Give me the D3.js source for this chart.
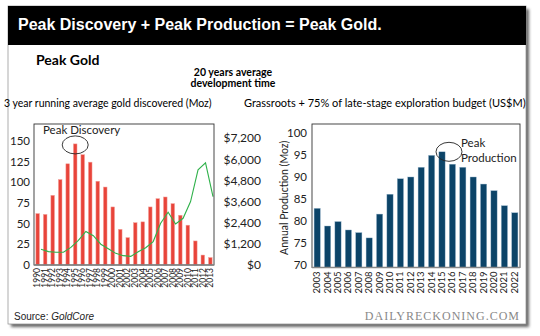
<!DOCTYPE html>
<html>
<head>
<meta charset="utf-8">
<script src="https://cdn.jsdelivr.net/npm/d3@7"></script>
<style>
  body { margin: 0; background: #fff; }
  svg { display: block; font-family: Lato, "Noto Sans", sans-serif; }
</style>
</head>
<body>
<div id="chart"></div>
<script>
// --- data ---
const discYears = ["1990","1991","1992","1993","1994","1995","1996","1997","1998","1999","2000","2001",
                   "2002","2003","2004","2005","2006","2007","2008","2009","2010","2011","2012","2013"];
// 3 year running average gold discovered (Moz)
const discovered = [62, 61, 84, 103, 122, 146, 133, 124, 101, 94, 70, 43, 33, 51, 52, 70, 80, 82, 74, 60, 48, 29, 12, 9];
// grassroots + 75% of late-stage exploration budget (US$M)
const budget = [890, 760, 720, 720, 1000, 1400, 1900, 1660, 1180, 920, 660, 530, 490, 750, 980, 1330, 2370, 2990, 2330, 2650, 3600, 5400, 5800, 3880];
const leftTicks = [0, 25, 50, 75, 100, 125, 150];
const rightTicks = [0, 1200, 2400, 3600, 4800, 6000, 7200];

const prodYears = ["2003","2004","2005","2006","2007","2008","2009","2010","2011","2012",
                   "2013","2014","2015","2016","2017","2018","2019","2020","2021","2022"];
// annual production (Moz)
const production = [82.9, 78.9, 79.9, 78.0, 77.4, 76.2, 81.6, 86.1, 89.6, 90.0, 92.2, 94.9, 95.7, 92.9, 92.2, 90.0, 88.4, 86.9, 83.5, 81.9];
const prodTicks = [70, 75, 80, 85, 90, 95, 100];

const width = 540, height = 336;

const svg = d3.select("#chart").append("svg")
    .attr("width", width)
    .attr("height", height)
    .attr("viewBox", `0 0 ${width} ${height}`);

// --- panel with shadow ---
const defs = svg.append("defs");
const blur = defs.append("filter").attr("id", "shadow").attr("x", "-5%").attr("y", "-5%").attr("width", "115%").attr("height", "115%");
blur.append("feGaussianBlur").attr("stdDeviation", 1.6);

svg.append("rect").attr("x", 11).attr("y", 9).attr("width", 518).attr("height", 318)
    .attr("fill", "#666").attr("filter", "url(#shadow)");
svg.append("rect").attr("x", 8).attr("y", 6).attr("width", 518).attr("height", 318)
    .attr("fill", "#fff").attr("stroke", "#999").attr("stroke-width", 0.8);
svg.append("rect").attr("x", 8).attr("y", 6).attr("width", 518).attr("height", 39).attr("fill", "#000");

svg.append("text")
    .attr("x", 18).attr("y", 30)
    .attr("fill", "#fff")
    .style("font-family", "'Liberation Sans', Arial, sans-serif")
    .style("font-weight", "bold")
    .style("font-size", "16px")
    .text("Peak Discovery + Peak Production = Peak Gold.");

svg.append("text")
    .attr("x", 36).attr("y", 65)
    .style("font-weight", "bold").style("font-size", "14px")
    .text("Peak Gold");

const sub = svg.append("text")
    .attr("text-anchor", "middle")
    .style("font-weight", "bold").style("font-size", "10.5px");
sub.append("tspan").attr("x", 233).attr("y", 76).text("20 years average");
sub.append("tspan").attr("x", 233).attr("y", 86.5).text("development time");

svg.append("text").attr("x", 4).attr("y", 107).style("font-size", "10.5px")
    .text("3 year running average gold discovered (Moz)");
svg.append("text").attr("x", 244).attr("y", 107).style("font-size", "11px")
    .text("Grassroots + 75% of late-stage exploration budget (US$M)");

// --- left chart: discoveries + budget ---
const L = { left: 34, right: 214, top: 124, bottom: 265 };

const xL = d3.scaleBand().domain(discYears).range([L.left, L.right]).paddingInner(0.52).paddingOuter(0.25);
const xLine = d3.scalePoint().domain(discYears).range([41, 213]);
const yL = d3.scaleLinear().domain([0, 170]).range([L.bottom, L.top]);
const yR = d3.scaleLinear().domain([0, 8000]).range([L.bottom, L.top]);

const left = svg.append("g");

left.append("g").selectAll("rect")
    .data(discYears)
    .join("rect")
    .attr("x", d => xL(d))
    .attr("y", (d, i) => yL(discovered[i]))
    .attr("width", xL.bandwidth())
    .attr("height", (d, i) => yL(0) - yL(discovered[i]))
    .attr("fill", "#e8443a")
    .attr("stroke", "#f3a39d")
    .attr("stroke-width", 0.5);

const line = d3.line()
    .x((d, i) => xLine(discYears[i]))
    .y(d => yR(d));

left.append("path")
    .datum(budget)
    .attr("d", line)
    .attr("fill", "none")
    .attr("stroke", "#2fb14a")
    .attr("stroke-width", 1.1);

left.append("rect")
    .attr("x", L.left).attr("y", L.top)
    .attr("width", L.right - L.left).attr("height", L.bottom - L.top)
    .attr("fill", "none").attr("stroke", "#333").attr("stroke-width", 0.9);
left.append("line")
    .attr("x1", L.left).attr("x2", L.right).attr("y1", L.bottom).attr("y2", L.bottom)
    .attr("stroke", "#888").attr("stroke-width", 1.6);

const axL = left.append("g")
    .attr("transform", `translate(${L.left},0)`)
    .call(d3.axisLeft(yL).tickValues(leftTicks).tickSize(0).tickPadding(4));
axL.select(".domain").remove();
axL.selectAll("text").style("font-family", "Lato, sans-serif").style("font-size", "11.5px").attr("fill", "#222");

const axR = left.append("g")
    .attr("transform", `translate(${L.right},0)`)
    .call(d3.axisRight(yR).tickValues(rightTicks).tickSize(0).tickPadding(4)
        .tickFormat(d => "$" + d3.format(",")(d)));
axR.select(".domain").remove();
axR.selectAll("text")
    .attr("text-anchor", "end").attr("x", 47)
    .style("font-family", "Lato, sans-serif").style("font-size", "12px").attr("fill", "#222");

const axB = left.append("g")
    .attr("transform", `translate(0,${L.bottom})`)
    .call(d3.axisBottom(xL).tickSize(0).tickPadding(0));
axB.select(".domain").remove();
axB.selectAll("text")
    .attr("transform", "rotate(-90)")
    .attr("text-anchor", "end")
    .attr("x", -3).attr("y", 0).attr("dy", "0.32em")
    .style("font-family", "Lato, sans-serif").style("font-size", "8.5px").attr("fill", "#222");

// Peak Discovery annotation
const peakI = discovered.indexOf(d3.max(discovered));
left.append("ellipse")
    .attr("cx", xL(discYears[peakI]) + xL.bandwidth() / 2)
    .attr("cy", yL(discovered[peakI]) + 1)
    .attr("rx", 13).attr("ry", 9)
    .attr("fill", "none").attr("stroke", "#222").attr("stroke-width", 0.9);
left.append("text").attr("x", 43).attr("y", 134).style("font-size", "11.5px").attr("fill", "#222")
    .text("Peak Discovery");

// --- right chart: production ---
const R = { left: 312, right: 520, top: 124, bottom: 267.5 };

const xP = d3.scaleBand().domain(prodYears).range([R.left, R.right]).paddingInner(0.4).paddingOuter(0.2);
const yP = d3.scaleLinear().domain([69.5, 102]).range([R.bottom, R.top]);

const right = svg.append("g");

right.append("g").selectAll("rect")
    .data(prodYears)
    .join("rect")
    .attr("x", d => xP(d))
    .attr("y", (d, i) => yP(production[i]))
    .attr("width", xP.bandwidth())
    .attr("height", (d, i) => yP(69.5) - yP(production[i]))
    .attr("fill", "#0c4468")
    .attr("stroke", "#9fbbd0")
    .attr("stroke-width", 0.4);

right.append("rect")
    .attr("x", R.left).attr("y", R.top)
    .attr("width", R.right - R.left).attr("height", R.bottom - R.top)
    .attr("fill", "none").attr("stroke", "#333").attr("stroke-width", 0.9);
right.append("line")
    .attr("x1", R.left).attr("x2", R.right).attr("y1", R.bottom).attr("y2", R.bottom)
    .attr("stroke", "#888").attr("stroke-width", 1.6);

const axP = right.append("g")
    .attr("transform", `translate(${R.left},0)`)
    .call(d3.axisLeft(yP).tickValues(prodTicks).tickSize(0).tickPadding(5));
axP.select(".domain").remove();
axP.selectAll("text").style("font-family", "Lato, sans-serif").style("font-size", "11.5px").attr("fill", "#222");

const axPB = right.append("g")
    .attr("transform", `translate(0,${R.bottom})`)
    .call(d3.axisBottom(xP).tickSize(0).tickPadding(0));
axPB.select(".domain").remove();
axPB.selectAll("text")
    .attr("transform", "rotate(-90)")
    .attr("text-anchor", "end")
    .attr("x", -4).attr("y", 0).attr("dy", "0.32em")
    .style("font-family", "Lato, sans-serif").style("font-size", "9.5px").attr("fill", "#222");

right.append("text")
    .attr("transform", `translate(288,${(R.top + R.bottom) / 2 + 2}) rotate(-90)`)
    .attr("text-anchor", "middle")
    .style("font-size", "10.5px").attr("fill", "#222")
    .text("Annual Production (Moz)");

// Peak Production annotation
const peakP = production.indexOf(d3.max(production));
right.append("ellipse")
    .attr("cx", xP(prodYears[peakP]) + xP.bandwidth() / 2 + 7)
    .attr("cy", yP(production[peakP]))
    .attr("rx", 13).attr("ry", 9.5)
    .attr("fill", "none").attr("stroke", "#222").attr("stroke-width", 0.9);
const ann = right.append("text").style("font-size", "11.5px").attr("fill", "#222");
ann.append("tspan").attr("x", 461).attr("y", 147).text("Peak");
ann.append("tspan").attr("x", 461).attr("y", 161.5).text("Production");

// --- footer ---
const src = svg.append("text").attr("x", 14).attr("y", 320)
    .style("font-family", "'Liberation Sans', Arial, sans-serif").style("font-size", "10px").attr("fill", "#222");
src.append("tspan").text("Source: ");
src.append("tspan").style("font-style", "italic").text("GoldCore");

svg.append("text")
    .attr("x", 520).attr("y", 320)
    .attr("text-anchor", "end")
    .style("font-family", "'Liberation Serif', 'DejaVu Serif', serif")
    .style("font-size", "12px")
    .style("letter-spacing", "1px")
    .attr("fill", "#888")
    .text("DAILYRECKONING.COM");
</script>
</body>
</html>
